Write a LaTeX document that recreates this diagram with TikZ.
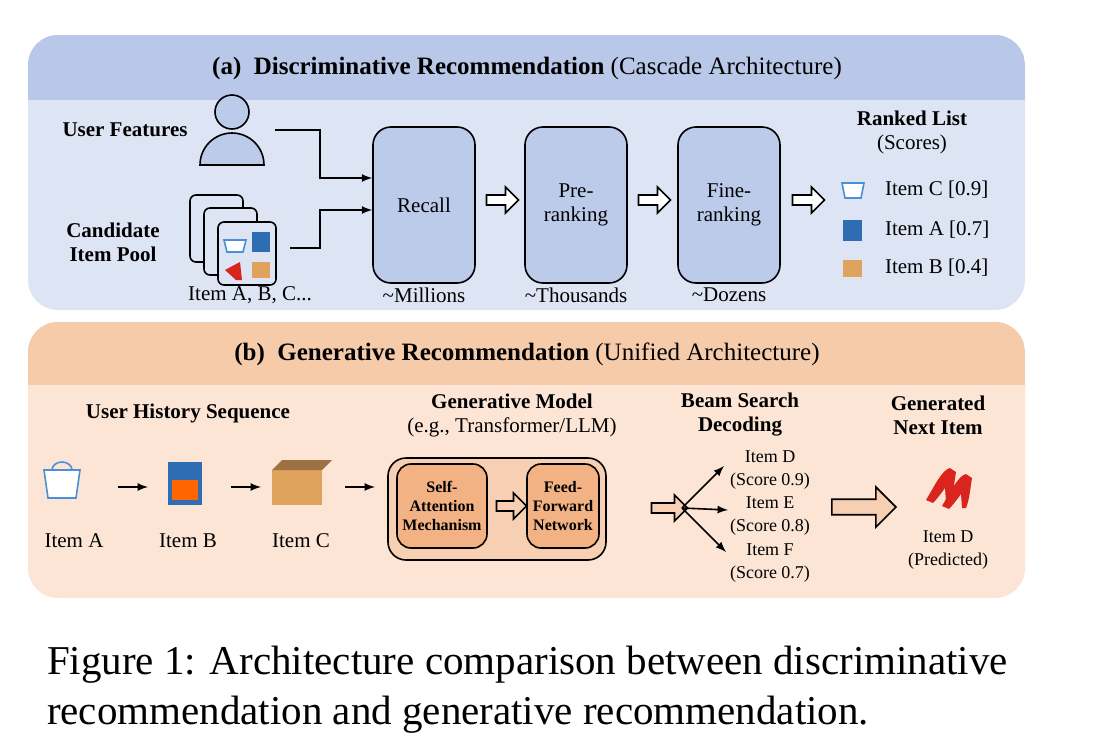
\documentclass[tikz,border=0pt]{standalone}
\usepackage{fontspec}
\setmainfont{Liberation Serif}
\usetikzlibrary{shapes.arrows}
\definecolor{headA}{HTML}{B9C8E8}
\definecolor{bodyA}{HTML}{DDE4F3}
\definecolor{boxA}{HTML}{BCCBEA}
\definecolor{headB}{HTML}{F6CBAA}
\definecolor{bodyB}{HTML}{FCE5D5}
\definecolor{boxB}{HTML}{F2B283}
\definecolor{outB}{HTML}{F7CFB2}
\definecolor{bagblue}{HTML}{4A90D9}
\definecolor{jacket}{HTML}{2E6DB4}
\definecolor{cardboard}{HTML}{E0A35E}
\definecolor{shoered}{HTML}{D9251D}
\begin{document}
\begin{tikzpicture}[x=0.5pt,y=-0.5pt,
    stage/.style={draw=black, thick, rounded corners=9pt, fill=boxA, minimum width=51pt, minimum height=78pt, align=center, font=\fontsize{10.5}{12}\selectfont},
    inner/.style={draw=black, thick, rounded corners=7pt, fill=boxB, minimum width=45pt, minimum height=42pt, inner sep=2pt, align=center, font=\bfseries\fontsize{8}{9.5}\selectfont},
    hollow/.style={single arrow, draw=black, thick, fill=white, minimum height=16pt, minimum width=13pt, single arrow head extend=3pt, inner sep=1.5pt},
    label/.style={align=center, font=\fontsize{10.5}{12}\selectfont},
    head/.style={align=center, font=\bfseries\fontsize{10.5}{12}\selectfont},
    small/.style={align=center, font=\fontsize{9}{11.5}\selectfont},
    line/.style={-latex, thick},
    card/.style={draw=black, thick, rounded corners=3pt, fill=bodyA}
]
\useasboundingbox (0,0) rectangle (1094,750);
\fill[white] (0,0) rectangle (1094,750);

% Panel (a)
\fill[bodyA, rounded corners=15pt] (28,35) rectangle (1025,310);
\begin{scope}
\clip[rounded corners=15pt] (28,35) rectangle (1025,310);
\fill[headA] (28,35) rectangle (1025,100);
\end{scope}
\node[font=\fontsize{12.5}{14}\selectfont] (titleA) at (527,68) {\textbf{(a)\ \ Discriminative Recommendation} (Cascade Architecture)};

\node[head] (userf) at (125,130) {User Features};
\node[head] (pool) at (113,242) {Candidate\\Item Pool};
% person icon
\draw[thick, fill=boxA] (232,112) circle (8.5pt);
\draw[thick, fill=boxA] (200,165) arc (180:0:16pt) -- cycle;
\coordinate (person) at (275,130);
% item cards
\draw[card] (190,195) rectangle (243,262);
\draw[card] (204,208) rectangle (257,275);
\draw[card] (218,222) rectangle (276,285);
\draw[bagblue, thick, fill=white] (224,240) -- (246,240) -- (243,252) -- (227,252) -- cycle;
\fill[jacket] (252,232) rectangle (270,252);
\fill[shoered] (225,270) -- (240,262) -- (242,280) -- (236,280) -- cycle;
\fill[cardboard] (252,262) rectangle (270,278);
\coordinate (cards) at (290,248);
\node[label] (poollab) at (250,295) {Item A, B, C...};

\node[stage] (recall) at (424,205) {Recall};
\node[stage] (prerank) at (576,205) {Pre-\\ranking};
\node[stage] (finerank) at (729,205) {Fine-\\ranking};
\node[label] (nrecall) at (424,295) {\textasciitilde Millions};
\node[label] (nprerank) at (576,295) {\textasciitilde Thousands};
\node[label] (nfinerank) at (729,295) {\textasciitilde Dozens};

\draw[line] (person) -| (320,178) -- (recall.west |- 0,178);
\draw[line] (cards) -| (320,210) -- (recall.west |- 0,210);
\node[hollow] (h1) at (500,200) {};
\node[hollow] (h2) at (652,200) {};
\node[hollow] (h3) at (806,200) {};

\node[label] (ranked) at (912,132) {\textbf{Ranked List}\\(Scores)};
\draw[bagblue, thick, fill=white] (842,183) -- (864,183) -- (861,198) -- (845,198) -- cycle;
\node[label, anchor=west] (itemC) at (878,190) {Item C [0.9]};
\fill[jacket] (843,220) rectangle (862,241);
\node[label, anchor=west] (itemA) at (878,230) {Item A [0.7]};
\fill[cardboard] (843,260) rectangle (862,277);
\node[label, anchor=west] (itemB) at (878,268) {Item B [0.4]};

% Panel (b)
\fill[bodyB, rounded corners=15pt] (28,322) rectangle (1025,598);
\begin{scope}
\clip[rounded corners=15pt] (28,322) rectangle (1025,598);
\fill[headB] (28,322) rectangle (1025,385);
\end{scope}
\node[font=\fontsize{12.5}{14}\selectfont] (titleB) at (527,354) {\textbf{(b)\ \ Generative Recommendation} (Unified Architecture)};

\node[head] (hist) at (188,413) {User History Sequence};
\draw[bagblue, thick, fill=white] (44,470) -- (80,470) -- (76,498) -- (48,498) -- cycle;
\draw[bagblue, thick] (52,470) arc (180:360:10 and 8);
\fill[jacket] (168,462) rectangle (202,505);
\fill[orange!80!red] (172,480) rectangle (198,500);
\fill[cardboard] (272,470) rectangle (322,505);
\fill[cardboard!70!black] (272,470) -- (282,460) -- (332,460) -- (322,470) -- cycle;
\node[label] (histA) at (74,541) {Item A};
\node[label] (histB) at (188,541) {Item B};
\node[label] (histC) at (301,541) {Item C};
\coordinate (a1) at (118,487); \coordinate (b1) at (148,487);
\coordinate (a2) at (231,487); \coordinate (b2) at (261,487);
\coordinate (a3) at (345,487); \coordinate (b3) at (375,487);
\draw[line] (a1) -- (b1);
\draw[line] (a2) -- (b2);
\draw[line] (a3) -- (b3);

\node[label] (gen) at (512,415) {\textbf{Generative Model}\\(e.g., Transformer/LLM)};
\draw[thick, fill=outB, rounded corners=9pt] (388,458) rectangle (606,560);
\node[inner] (selfatt) at (442,506) {Self-\\Attention\\Mechanism};
\node[inner, minimum width=36pt] (ffn) at (563,506) {Feed-\\Forward\\Network};
\node[hollow, fill=outB, minimum height=15pt] (h4) at (509,506) {};
\node[hollow, fill=outB, minimum height=18pt] (h5) at (667,508) {};

\coordinate (fan) at (682,508);
\node[small] (candD) at (770,470) {Item D\\(Score 0.9)};
\node[small] (candE) at (770,516) {Item E\\(Score 0.8)};
\node[small] (candF) at (770,563) {Item F\\(Score 0.7)};
\draw[line] (fan) -- (724,466);
\draw[line] (fan) -- (728,510);
\draw[line] (fan) -- (726,552);
\node[head] (beam) at (740,415) {Beam Search\\Decoding};

\node[hollow, fill=outB, minimum height=32pt, minimum width=20pt] (h6) at (860,507) {};
\node[head] (next) at (938,415) {Generated\\Next Item};
\fill[shoered] (926,500) .. controls (935,485) and (942,470) .. (950,468) -- (956,472) .. controls (954,485) and (953,495) .. (950,502) -- (946,502) -- (945,488) .. controls (940,495) and (936,500) .. (933,503) -- cycle;
\fill[shoered] (942,506) .. controls (951,491) and (958,476) .. (966,474) -- (972,478) .. controls (970,491) and (969,501) .. (966,508) -- (962,508) -- (961,494) .. controls (956,501) and (952,506) .. (949,509) -- cycle;
\node[small] (pred) at (948,550) {Item D\\(Predicted)};

% Caption
\node[anchor=west, align=left, font=\fontsize{20.5}{25}\selectfont] (cap) at (40,690) {Figure 1: Architecture comparison between discriminative\\recommendation and generative recommendation.};
\end{tikzpicture}
\end{document}
